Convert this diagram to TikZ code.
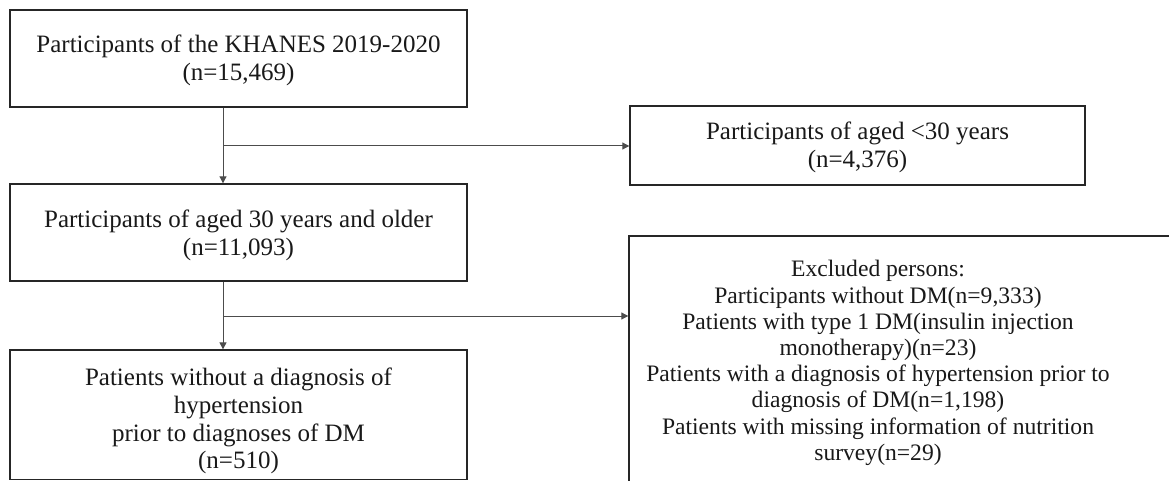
\documentclass[tikz,border=0pt]{standalone}
\usepackage{fontspec}
\setmainfont{Liberation Serif}
\usetikzlibrary{arrows.meta}
\begin{document}
\begin{tikzpicture}[x=1pt,y=-1pt,
  box/.style={draw=black!85, line width=1.4pt, inner sep=0pt, fill=white},
  txt/.style={align=center, font=\fontsize{25}{27.8}\selectfont, inner sep=0pt, text=black!90},
  txtd/.style={align=center, font=\fontsize{23.6}{26.2}\selectfont, inner sep=0pt, text=black!90},
  conn/.style={draw=black!70, line width=1pt},
  arr/.style={conn, -{Triangle[length=7pt,width=7pt]}}]
\useasboundingbox (0,0) rectangle (1169,481);
\clip (0,0) rectangle (1169,481);
% boxes
\node[box, minimum width=457pt, minimum height=97pt] (A) at (238.5,58.5) {};
\node[box, minimum width=455pt, minimum height=79pt] (B) at (857.5,145.5) {};
\node[box, minimum width=457pt, minimum height=97pt] (C) at (238.5,232.5) {};
\node[box, minimum width=551pt, minimum height=259pt] (D) at (904.5,365.5) {};
\node[box, minimum width=457pt, minimum height=129.5pt] (E) at (238.5,414.8) {};
% texts
\node[txt] (tA) at (238.5,60) {Participants of the KHANES 2019-2020\\(n=15,469)};
\node[txt] (tB) at (857.5,147) {Participants of aged <30 years\\(n=4,376)};
\node[txt] (tC) at (238.5,235) {Participants of aged 30 years and older\\(n=11,093)};
\node[txtd] (tD) at (878,363) {Excluded persons:\\Participants without DM(n=9,333)\\Patients with type 1 DM(insulin injection\\monotherapy)(n=23)\\Patients with a diagnosis of hypertension prior to\\diagnosis of DM(n=1,198)\\Patients with missing information of nutrition\\survey(n=29)};
\node[txt] (tE) at (238.5,421) {Patients without a diagnosis of\\hypertension\\prior to diagnoses of DM\\(n=510)};
% connectors
\coordinate (j1) at (223,146);
\coordinate (j2) at (223,316);
\draw[arr] (j1 |- A.south) -- (j1 |- C.north);
\draw[arr] (j1) -- (j1 -| B.west);
\draw[arr] (j2 |- C.south) -- (j2 |- E.north);
\draw[arr] (j2) -- (j2 -| D.west);
\end{tikzpicture}
\end{document}
